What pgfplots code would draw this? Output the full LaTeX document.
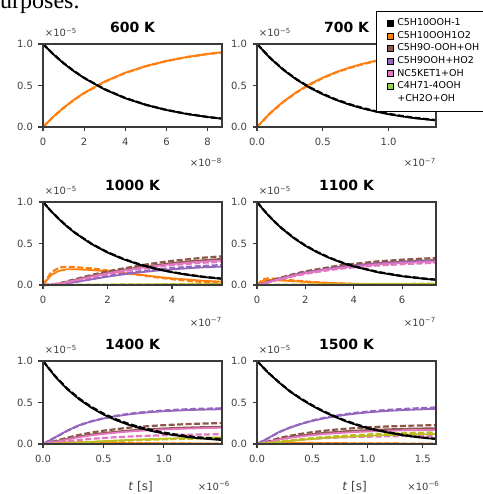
\documentclass[border=0pt]{standalone}
\usepackage{pgfplots}
\pgfplotsset{compat=1.18}
\usepackage{pgfplotstable}
\usepackage{fontspec}
\setmainfont{DejaVu Sans}
\newfontfamily\seriffont{Liberation Serif}

\definecolor{cBlack}{HTML}{000000}
\definecolor{cOrange}{HTML}{FF7F0E}
\definecolor{cBrown}{HTML}{8C564B}
\definecolor{cPurple}{HTML}{9467BD}
\definecolor{cPink}{HTML}{E377C2}
\definecolor{cOlive}{HTML}{BCBD22}
\definecolor{cLegGreen}{HTML}{92D050}
\definecolor{spine}{HTML}{3A3A3A}
\definecolor{tickgray}{HTML}{404040}

% 600 K
\pgfplotstableread{
x blk blkd or ord br brd pu pud pi pid ol old
0 1 1 0 0 0 0 0 0 0 0 0 0
0.5 0.876 0.878 0.124 0.122 0 0 0 0 0 0 0 0
1 0.767 0.770 0.233 0.230 0 0 0 0 0 0 0 0
1.5 0.672 0.675 0.328 0.325 0 0 0 0 0 0 0 0
2 0.589 0.592 0.411 0.408 0 0 0 0 0 0 0 0
3 0.452 0.455 0.548 0.545 0 0 0 0 0 0 0 0
4 0.346 0.349 0.654 0.651 0 0 0 0 0 0 0 0
5 0.266 0.268 0.734 0.732 0 0 0 0 0 0 0 0
6 0.204 0.206 0.796 0.794 0 0 0 0 0 0 0 0
7 0.156 0.158 0.844 0.842 0 0 0 0 0 0 0 0
8 0.120 0.121 0.880 0.879 0 0 0 0 0 0 0 0
8.7 0.100 0.101 0.900 0.899 0 0 0 0 0 0 0 0
}\tA
% 700 K
\pgfplotstableread{
x blk blkd or ord br brd pu pud pi pid ol old
0 1 1 0 0 0 0 0 0 0 0 0 0
0.1 0.829 0.832 0.168 0.165 0 0 0 0 0 0 0 0
0.2 0.688 0.692 0.306 0.302 0 0 0 0 0 0 0 0
0.3 0.571 0.576 0.420 0.416 0 0 0 0 0 0 0 0
0.4 0.473 0.479 0.516 0.511 0 0 0 0 0 0 0 0
0.5 0.393 0.399 0.595 0.590 0 0 0 0 0 0 0 0
0.6 0.326 0.332 0.661 0.656 0 0 0 0 0 0 0 0
0.7 0.270 0.276 0.715 0.710 0 0 0 0 0 0 0 0
0.8 0.224 0.230 0.760 0.755 0 0 0 0 0 0 0 0
0.9 0.186 0.191 0.798 0.793 0 0 0 0 0 0 0 0
1.0 0.154 0.159 0.829 0.824 0 0 0 0 0 0 0 0
1.1 0.128 0.133 0.854 0.850 0 0 0 0 0 0 0 0
1.2 0.106 0.110 0.876 0.872 0 0 0 0 0 0 0 0
1.36 0.079 0.083 0.903 0.899 0 0 0 0 0 0 0 0
}\tB
% 1000 K
\pgfplotstableread{
x blk blkd or ord br brd pu pud pi pid ol old
0 1 1 0 0 0 0 0 0 0 0 0 0
0.25 0.889 0.890 0.12 0.15 0.004 0.005 0.002 0.002 0.004 0.004 0 0
0.5 0.791 0.793 0.17 0.21 0.017 0.020 0.008 0.009 0.016 0.015 0.001 0.001
0.75 0.703 0.706 0.19 0.22 0.040 0.045 0.020 0.022 0.035 0.033 0.001 0.001
1 0.625 0.628 0.19 0.215 0.063 0.070 0.035 0.038 0.057 0.054 0.002 0.002
1.5 0.494 0.498 0.18 0.20 0.110 0.120 0.068 0.073 0.100 0.095 0.003 0.003
2 0.391 0.395 0.165 0.175 0.150 0.165 0.100 0.108 0.140 0.133 0.004 0.004
2.5 0.309 0.313 0.145 0.15 0.185 0.200 0.128 0.138 0.175 0.166 0.005 0.005
3 0.244 0.248 0.125 0.12 0.215 0.235 0.152 0.164 0.205 0.195 0.006 0.006
3.5 0.193 0.197 0.10 0.095 0.240 0.265 0.172 0.186 0.230 0.218 0.007 0.007
4 0.153 0.156 0.08 0.07 0.265 0.290 0.188 0.203 0.250 0.238 0.008 0.008
4.5 0.121 0.124 0.065 0.05 0.285 0.310 0.202 0.218 0.268 0.255 0.009 0.009
5 0.095 0.098 0.05 0.035 0.300 0.330 0.213 0.230 0.283 0.269 0.010 0.010
5.55 0.074 0.077 0.04 0.025 0.315 0.345 0.222 0.240 0.295 0.280 0.011 0.011
}\tC
% 1100 K
\pgfplotstableread{
x blk blkd or ord br brd pu pud pi pid ol old
0 1 1 0 0 0 0 0 0 0 0 0 0
0.25 0.911 0.912 0.05 0.07 0.018 0.020 0.015 0.015 0.015 0.014 0 0
0.5 0.829 0.831 0.06 0.08 0.042 0.045 0.035 0.036 0.034 0.033 0.001 0.001
0.75 0.755 0.757 0.058 0.075 0.065 0.070 0.057 0.058 0.056 0.053 0.001 0.002
1 0.687 0.690 0.054 0.068 0.084 0.090 0.077 0.079 0.075 0.072 0.002 0.002
1.5 0.570 0.573 0.046 0.055 0.120 0.130 0.113 0.115 0.110 0.105 0.003 0.004
2 0.472 0.476 0.038 0.042 0.153 0.165 0.145 0.148 0.142 0.135 0.004 0.005
2.5 0.392 0.396 0.030 0.032 0.177 0.190 0.170 0.173 0.167 0.158 0.005 0.006
3 0.325 0.329 0.023 0.024 0.200 0.215 0.193 0.197 0.190 0.180 0.006 0.007
3.5 0.269 0.273 0.018 0.018 0.222 0.240 0.213 0.217 0.208 0.198 0.007 0.008
4 0.223 0.227 0.014 0.013 0.237 0.255 0.228 0.233 0.223 0.212 0.008 0.009
5 0.153 0.157 0.009 0.008 0.265 0.285 0.253 0.258 0.248 0.235 0.009 0.011
6 0.105 0.108 0.006 0.005 0.284 0.305 0.270 0.275 0.265 0.251 0.011 0.013
7 0.072 0.075 0.004 0.003 0.297 0.320 0.283 0.289 0.277 0.263 0.012 0.015
7.4 0.062 0.065 0.003 0.003 0.302 0.325 0.287 0.293 0.281 0.267 0.013 0.016
}\tD
% 1400 K
\pgfplotstableread{
x blk blkd or ord br brd pu pud pi pid ol old
0 1 1 0 0 0 0 0 0 0 0 0 0
0.1 0.813 0.818 0.020 0.025 0.029 0.035 0.080 0.078 0.025 0.015 0.003 0.003
0.2 0.661 0.668 0.020 0.024 0.062 0.075 0.160 0.158 0.055 0.033 0.010 0.009
0.3 0.537 0.546 0.018 0.021 0.091 0.110 0.227 0.226 0.082 0.049 0.018 0.016
0.4 0.437 0.447 0.016 0.018 0.115 0.138 0.272 0.273 0.104 0.062 0.026 0.023
0.5 0.355 0.366 0.014 0.015 0.133 0.160 0.307 0.310 0.121 0.073 0.034 0.030
0.6 0.289 0.300 0.012 0.013 0.148 0.178 0.334 0.339 0.136 0.082 0.041 0.036
0.7 0.235 0.246 0.010 0.011 0.162 0.195 0.355 0.361 0.149 0.089 0.048 0.042
0.8 0.191 0.202 0.009 0.009 0.172 0.207 0.372 0.379 0.159 0.095 0.054 0.047
0.9 0.155 0.166 0.008 0.008 0.181 0.218 0.385 0.393 0.168 0.100 0.059 0.052
1.0 0.126 0.137 0.007 0.007 0.188 0.227 0.395 0.404 0.175 0.105 0.064 0.056
1.1 0.103 0.114 0.006 0.006 0.194 0.234 0.402 0.412 0.181 0.109 0.068 0.060
1.2 0.083 0.094 0.005 0.005 0.199 0.240 0.409 0.419 0.186 0.112 0.072 0.063
1.3 0.068 0.078 0.005 0.004 0.203 0.245 0.413 0.424 0.190 0.114 0.075 0.066
1.48 0.047 0.058 0.004 0.004 0.209 0.252 0.419 0.430 0.196 0.118 0.080 0.070
}\tE
% 1500 K
\pgfplotstableread{
x blk blkd or ord br brd pu pud pi pid ol old
0 1 1 0 0 0 0 0 0 0 0 0 0
0.1 0.860 0.862 0.015 0.016 0.025 0.030 0.070 0.068 0.023 0.013 0.010 0.012
0.2 0.740 0.743 0.014 0.015 0.060 0.072 0.145 0.143 0.054 0.032 0.024 0.028
0.3 0.630 0.634 0.012 0.013 0.084 0.100 0.199 0.199 0.075 0.044 0.036 0.042
0.4 0.540 0.545 0.011 0.012 0.103 0.123 0.242 0.244 0.092 0.054 0.049 0.057
0.5 0.460 0.466 0.010 0.011 0.119 0.142 0.278 0.282 0.107 0.062 0.060 0.070
0.6 0.390 0.396 0.009 0.010 0.133 0.158 0.307 0.313 0.119 0.070 0.071 0.082
0.7 0.330 0.336 0.008 0.009 0.144 0.172 0.331 0.338 0.129 0.076 0.079 0.092
0.8 0.275 0.281 0.007 0.008 0.154 0.183 0.351 0.359 0.137 0.081 0.086 0.100
0.9 0.230 0.236 0.006 0.007 0.162 0.193 0.367 0.376 0.145 0.085 0.093 0.108
1.0 0.190 0.196 0.006 0.006 0.168 0.200 0.380 0.390 0.150 0.088 0.099 0.115
1.1 0.160 0.165 0.005 0.006 0.174 0.207 0.391 0.402 0.155 0.091 0.104 0.121
1.2 0.135 0.139 0.005 0.005 0.178 0.212 0.400 0.412 0.159 0.093 0.108 0.126
1.3 0.110 0.114 0.004 0.005 0.182 0.217 0.407 0.420 0.163 0.095 0.112 0.130
1.4 0.090 0.094 0.004 0.004 0.186 0.221 0.413 0.427 0.166 0.097 0.115 0.134
1.5 0.075 0.078 0.004 0.004 0.188 0.224 0.418 0.433 0.168 0.099 0.118 0.137
1.62 0.060 0.063 0.003 0.004 0.191 0.227 0.424 0.440 0.170 0.100 0.120 0.140
}\tF

\pgfplotsset{
  panel/.style={
    scale only axis, width=179pt, height=83pt, anchor=south west,
    ymin=0, ymax=1, ytick={0,0.5,1}, yticklabels={0.0,0.5,1.0},
    axis line style={spine, line width=1.4pt},
    tick style={spine, line width=1.1pt},
    major tick length=4.5pt, tick align=outside, tick pos=left,
    ticklabel style={font=\fontsize{10}{11}\selectfont, text=tickgray},
    yticklabel style={xshift=-2pt},
    xticklabel style={yshift=-3pt},
    /pgf/number format/assume math mode=true,
    title style={at={(0.5,1)}, anchor=base, yshift=5pt, font=\bfseries\fontsize{14}{16}\selectfont},
    clip=false, axis on top,
  },
  sol/.style={line width=1.8pt, forget plot},
  dsh/.style={line width=2.2pt, dash pattern=on 6pt off 2.5pt, forget plot},
}
\tikzset{expo/.style={font=\fontsize{10}{11}\selectfont, text=tickgray, inner sep=0pt}}

\newcommand\allplots[1]{%
  \addplot[sol,cOrange] table[x=x,y=or]{#1};
  \addplot[dsh,cOrange] table[x=x,y=ord]{#1};
  \addplot[sol,cBrown] table[x=x,y=br]{#1};
  \addplot[dsh,cBrown] table[x=x,y=brd]{#1};
  \addplot[sol,cPurple] table[x=x,y=pu]{#1};
  \addplot[dsh,cPurple] table[x=x,y=pud]{#1};
  \addplot[sol,cPink] table[x=x,y=pi]{#1};
  \addplot[dsh,cPink] table[x=x,y=pid]{#1};
  \addplot[sol,cOlive] table[x=x,y=ol]{#1};
  \addplot[dsh,cOlive] table[x=x,y=old]{#1};
  \addplot[sol,cBlack] table[x=x,y=blk]{#1};
  \addplot[dsh,cBlack] table[x=x,y=blkd]{#1};
}

\begin{document}
\begin{tikzpicture}
\path (0pt,0pt) rectangle (482pt,494pt);

% 600 K
\begin{axis}[panel, at={(43pt,367pt)}, xmin=0, xmax=8.7, xtick={0,2,4,6,8}, xticklabels={0,2,4,6,8}, title={600 K}]
\allplots{\tA}
\node[expo, anchor=base west] at (rel axis cs:0.01,1.085) {×10\textsuperscript{−5}};
\node[expo, anchor=base east] at (rel axis cs:1,-0.48) {×10\textsuperscript{−8}};
\end{axis}

% 700 K
\begin{axis}[panel, at={(257pt,367pt)}, xmin=0, xmax=1.36, xtick={0,0.5,1}, xticklabels={0.0,0.5,1.0}, title={700 K},
  legend image code/.code={\fill[#1] (0pt,-3pt) rectangle (6pt,3pt); \path (10pt,0pt);},
  legend style={at={(0.667,1.398)}, anchor=north west, draw=black, line width=0.6pt, fill=white,
    font=\fontsize{9.5}{11}\selectfont, inner xsep=10pt, inner ysep=7pt,
    nodes={inner sep=0pt, text height=7.5pt, text depth=2.5pt}, row sep=2.6pt, column sep=0pt},
  legend cell align=left]
\allplots{\tB}
\addlegendimage{fill=black}\addlegendentry{C5H10OOH-1}
\addlegendimage{fill=cOrange}\addlegendentry{C5H10OOH1O2}
\addlegendimage{fill=cBrown}\addlegendentry{C5H9O-OOH+OH}
\addlegendimage{fill=cPurple}\addlegendentry{C5H9OOH+HO2}
\addlegendimage{fill=cPink}\addlegendentry{NC5KET1+OH}
\addlegendimage{fill=cLegGreen}\addlegendentry{C4H71-4OOH}
\addlegendimage{empty legend}\addlegendentry{+CH2O+OH}
\node[expo, anchor=base west] at (rel axis cs:0.01,1.085) {×10\textsuperscript{−5}};
\node[expo, anchor=base east] at (rel axis cs:1,-0.48) {×10\textsuperscript{−7}};
\end{axis}

% 1000 K
\begin{axis}[panel, at={(43pt,209pt)}, xmin=0, xmax=5.55, xtick={0,2,4}, xticklabels={0,2,4}, title={1000 K}]
\allplots{\tC}
\node[expo, anchor=base west] at (rel axis cs:0.01,1.085) {×10\textsuperscript{−5}};
\node[expo, anchor=base east] at (rel axis cs:1,-0.5) {×10\textsuperscript{−7}};
\end{axis}

% 1100 K
\begin{axis}[panel, at={(257pt,209pt)}, xmin=0, xmax=7.4, xtick={0,2,4,6}, xticklabels={0,2,4,6}, title={1100 K}]
\allplots{\tD}
\node[expo, anchor=base west] at (rel axis cs:0.01,1.085) {×10\textsuperscript{−5}};
\node[expo, anchor=base east] at (rel axis cs:1,-0.5) {×10\textsuperscript{−7}};
\end{axis}

% 1400 K
\begin{axis}[panel, at={(43pt,50pt)}, xmin=0, xmax=1.48, xtick={0,0.5,1}, xticklabels={0.0,0.5,1.0}, title={1400 K}]
\allplots{\tE}
\node[expo, anchor=base west] at (rel axis cs:0.01,1.085) {×10\textsuperscript{−5}};
\node[expo, anchor=base east] at (rel axis cs:1.045,-0.56) {×10\textsuperscript{−6}};
\node[anchor=base, inner sep=0pt, font=\fontsize{12}{14}\selectfont, text=tickgray] at (rel axis cs:0.545,-0.56) {\textit{t} [s]};
\end{axis}

% 1500 K
\begin{axis}[panel, at={(257pt,50pt)}, xmin=0, xmax=1.62, xtick={0,0.5,1,1.5}, xticklabels={0.0,0.5,1.0,1.5}, title={1500 K}]
\allplots{\tF}
\node[expo, anchor=base west] at (rel axis cs:0.01,1.085) {×10\textsuperscript{−5}};
\node[expo, anchor=base east] at (rel axis cs:1.02,-0.56) {×10\textsuperscript{−6}};
\node[anchor=base, inner sep=0pt, font=\fontsize{12}{14}\selectfont, text=tickgray] at (rel axis cs:0.545,-0.56) {\textit{t} [s]};
\end{axis}

\node[anchor=base west, inner sep=0pt, font=\seriffont\fontsize{24}{24}\selectfont] at (-12pt,485pt) {purposes.};
\pgfresetboundingbox
\path[use as bounding box] (0pt,0pt) rectangle (482pt,494pt);
\end{tikzpicture}
\end{document}
